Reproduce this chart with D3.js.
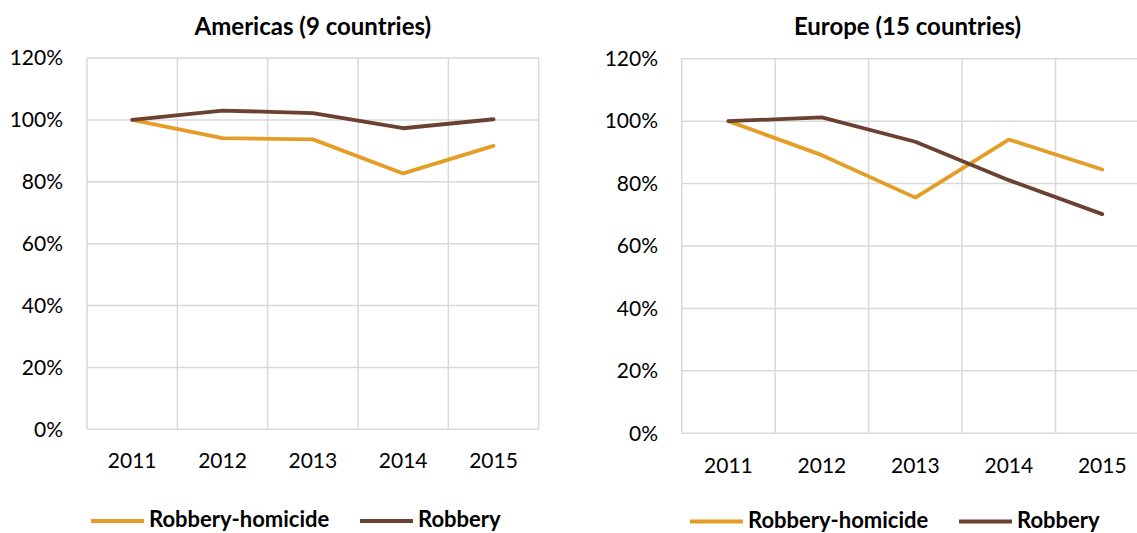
<!DOCTYPE html>
<html lang="en">
<head>
<meta charset="UTF-8">
<title>Robbery trends</title>
<script src="https://cdn.jsdelivr.net/npm/d3@7"></script>
<style>
    body { margin: 0; background: #fff; }
    svg { display: block; font-family: Lato, "Open Sans", sans-serif; }
    .tick text { fill: #000; }
    .title { font-weight: bold; font-size: 24px; }
    .legend text { font-weight: bold; font-size: 22px; }
</style>
</head>
<body>
<script>
    // values, index 2011 = 100%
    var years = ["2011", "2012", "2013", "2014", "2015"];
    var americasHomicide = [1.00, 0.941, 0.937, 0.827, 0.916];
    var americasRobbery = [1.00, 1.030, 1.022, 0.973, 1.002];
    var europeHomicide = [1.00, 0.891, 0.755, 0.941, 0.845];
    var europeRobbery = [1.00, 1.012, 0.934, 0.811, 0.702];
    var yTicks = [0, 0.2, 0.4, 0.6, 0.8, 1.0, 1.2];
    var seriesNames = ["Robbery-homicide", "Robbery"];
    var colors = ["#E49E27", "#6B4132"];

    var width = 1137, height = 533;

    var svg = d3.select("body").append("svg")
        .attr("width", width)
        .attr("height", height);

    var panels = [
        { title: "Americas (9 countries)", series: [americasHomicide, americasRobbery],
          left: 87, right: 538.7, top: 58, bottom: 429.3, labelRight: 63, xLabelY: 468,
          legendX: 91, legendY: 521 },
        { title: "Europe (15 countries)", series: [europeHomicide, europeRobbery],
          left: 681.7, right: 1149, top: 58.7, bottom: 433.3, labelRight: 658, xLabelY: 473,
          legendX: 690, legendY: 521.5 }
    ];

    panels.forEach(function(p) {
        var g = svg.append("g");

        var x = d3.scaleBand().domain(years).range([p.left, p.right]).padding(0);
        var y = d3.scaleLinear().domain([0, 1.2]).range([p.bottom, p.top]);

        // horizontal grid
        g.append("g").selectAll("line")
            .data(yTicks)
            .join("line")
            .attr("x1", p.left).attr("x2", p.right)
            .attr("y1", function(d) { return y(d); })
            .attr("y2", function(d) { return y(d); })
            .attr("stroke", "#d9d9d9")
            .attr("stroke-width", 1.5);

        // vertical grid at band edges
        var edges = years.map(function(d) { return x(d); }).concat([p.right]);
        g.append("g").selectAll("line")
            .data(edges)
            .join("line")
            .attr("x1", function(d) { return d; }).attr("x2", function(d) { return d; })
            .attr("y1", p.top).attr("y2", p.bottom)
            .attr("stroke", "#d9d9d9")
            .attr("stroke-width", 1.5);

        // y axis labels
        var yAxis = g.append("g")
            .attr("transform", "translate(" + p.labelRight + ",0)")
            .call(d3.axisLeft(y).tickValues(yTicks).tickSize(0).tickPadding(0)
                .tickFormat(d3.format(".0%")));
        yAxis.select(".domain").remove();
        yAxis.selectAll("text").attr("font-size", 21).attr("font-family", "Lato, sans-serif");

        // x axis labels
        var xAxis = g.append("g")
            .attr("transform", "translate(0," + p.bottom + ")")
            .call(d3.axisBottom(x).tickSize(0).tickPadding(0));
        xAxis.select(".domain").remove();
        xAxis.selectAll("text")
            .attr("font-size", 21)
            .attr("font-family", "Lato, sans-serif")
            .attr("dy", null)
            .attr("y", p.xLabelY - p.bottom);

        // lines
        var line = d3.line()
            .x(function(d, i) { return x(years[i]) + x.bandwidth() / 2; })
            .y(function(d) { return y(d); });

        p.series.forEach(function(s, i) {
            g.append("path")
                .datum(s)
                .attr("d", line)
                .attr("fill", "none")
                .attr("stroke", colors[i])
                .attr("stroke-width", 3.8)
                .attr("stroke-linejoin", "round")
                .attr("stroke-linecap", "round");
        });

        // title, centred on the visible plot width
        g.append("text")
            .attr("class", "title")
            .attr("x", (p.left + Math.min(p.right, p.left + 451.7)) / 2)
            .attr("y", 35)
            .attr("text-anchor", "middle")
            .text(p.title);

        // legend
        var legend = g.append("g").attr("class", "legend")
            .attr("transform", "translate(" + p.legendX + "," + p.legendY + ")");
        var offsets = [0, 269];
        seriesNames.forEach(function(name, i) {
            legend.append("line")
                .attr("x1", offsets[i]).attr("x2", offsets[i] + 53)
                .attr("y1", 0).attr("y2", 0)
                .attr("stroke", colors[i])
                .attr("stroke-width", 3.8);
            legend.append("text")
                .attr("x", offsets[i] + 58)
                .attr("y", 6)
                .text(name);
        });
    });
</script>
</body>
</html>
